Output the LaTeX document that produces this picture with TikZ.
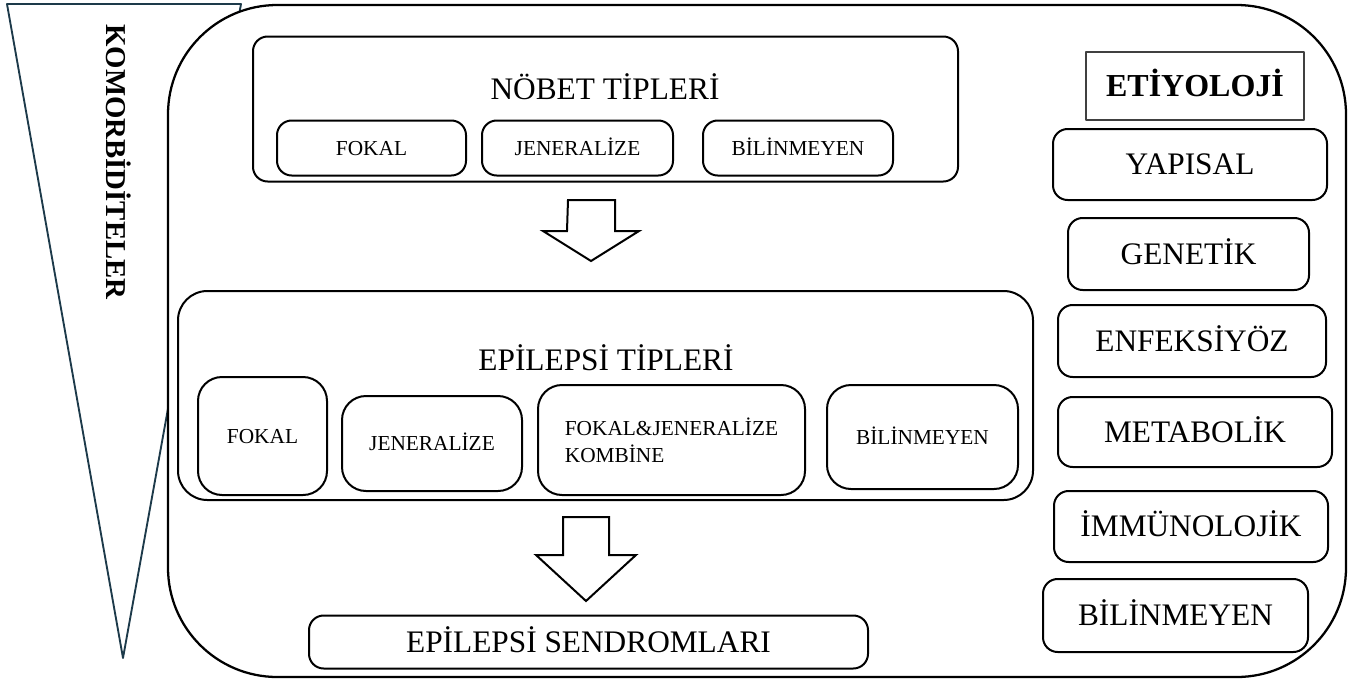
\documentclass[tikz,border=0pt]{standalone}
\usepackage{fontspec}
\setmainfont{Liberation Serif}
\usetikzlibrary{positioning}
\definecolor{slate}{HTML}{1D3A4A}

\begin{document}
\begin{tikzpicture}[
            x = 0.75pt, y = -0.75pt, % one unit is one pixel of the layout
            line join = round,
            boxsize/.style 2 args = {minimum width = #1*0.75pt, minimum height = #2*0.75pt}
        ]

        \tikzstyle{box}=[
            draw,
            line width = 1.5pt,
            rounded corners = 11pt,
            inner sep = 0pt,
            align = center
        ]
        \tikzstyle{bigtext}=[text height = 15.5pt, text depth = 0pt, font = \fontsize{23.5}{28}\selectfont]
        \tikzstyle{smalltext}=[text height = 10.6pt, text depth = 0pt, font = \fontsize{16}{20}\selectfont]
        \tikzstyle{blockarrow}=[draw, line width = 1.5pt, fill = white, line join = miter]

        \fill[white] (0,0) rectangle (1360,682);
        \useasboundingbox (0,0) rectangle (1360,682);

	% comorbidities wedge
        \draw[slate, line width = 1.4pt] (7,4) -- (241,4) -- (123,658) -- cycle;
        \node[rotate = -90, font = \bfseries\fontsize{21.6}{26}\selectfont] (komor) at (119,162) {KOMORBİDİTELER};

	% outer frame
        \node[draw, line width = 1.7pt, fill = white, rounded corners = 82pt, boxsize = {1178}{672}] (frame) at (757,341) {};

	% seizure types
        \node[box, boxsize = {705}{145}] (nobet) at (605.5,109) {};
        \node[bigtext] (nobettitle) at (605,89) {NÖBET TİPLERİ};
        \node[box, smalltext, boxsize = {189}{55}] (nfokal) at (371.5,148) {FOKAL};
        \node[box, smalltext, boxsize = {191}{55}] (njen) at (577.5,148) {JENERALİZE};
        \node[box, smalltext, boxsize = {190}{55}] (nbil) at (798,148) {BİLİNMEYEN};

        \coordinate (arr1) at (568,200);
        \draw[blockarrow] (arr1) -- ++(47,0) -- ++(0,31) -- ++(24,0) -- ++(-48,30) -- ++(-48,-30) -- ++(24,0) -- cycle;

	% epilepsy types
        \node[box, rounded corners = 22pt, boxsize = {855}{209}] (epi) at (605.5,395.5) {};
        \node[bigtext] (epititle) at (606,360) {EPİLEPSİ TİPLERİ};
        \node[box, rounded corners = 18pt, smalltext, boxsize = {129}{118}] (efokal) at (262.5,436) {FOKAL};
        \node[box, rounded corners = 18pt, smalltext, boxsize = {180}{95}] (ejen) at (432,443.5) {JENERALİZE};
        \node[box, rounded corners = 18pt, font = \fontsize{16}{20}\selectfont, boxsize = {267}{110}, align = left] (ekomb) at (671.5,440) {FOKAL\&JENERALİZE\\KOMBİNE};
        \node[box, rounded corners = 18pt, smalltext, boxsize = {191}{104}] (ebil) at (922.5,437) {BİLİNMEYEN};

        \coordinate (arr2) at (563,517);
        \draw[blockarrow] (arr2) -- ++(46,0) -- ++(0,38) -- ++(27,0) -- ++(-50,46) -- ++(-50,-46) -- ++(27,0) -- cycle;

	% syndromes
        \node[box, bigtext, boxsize = {559}{53}] (sendrom) at (588.5,642) {EPİLEPSİ SENDROMLARI};

	% etiology column
        \node[draw = black!75, line width = 0.8pt, boxsize = {218}{68}, text height = 16pt, text depth = 0pt, font = \bfseries\fontsize{24}{28}\selectfont] (etiyoloji) at (1195,86) {ETİYOLOJİ};
        \node[box, bigtext, boxsize = {274}{71}] (yapisal) at (1190,164.5) {YAPISAL};
        \node[box, bigtext, boxsize = {241}{72}] (genetik) at (1188.5,254) {GENETİK};
        \node[box, bigtext, boxsize = {268}{72}] (enfeks) at (1192,341) {ENFEKSİYÖZ};
        \node[box, bigtext, boxsize = {274}{70}] (metab) at (1195,432) {METABOLİK};
        \node[box, bigtext, boxsize = {274}{71}] (immun) at (1191,526.5) {İMMÜNOLOJİK};
        \node[box, bigtext, boxsize = {265}{73}] (bilinm) at (1175.5,615.5) {BİLİNMEYEN};

  \end{tikzpicture}
\end{document}
